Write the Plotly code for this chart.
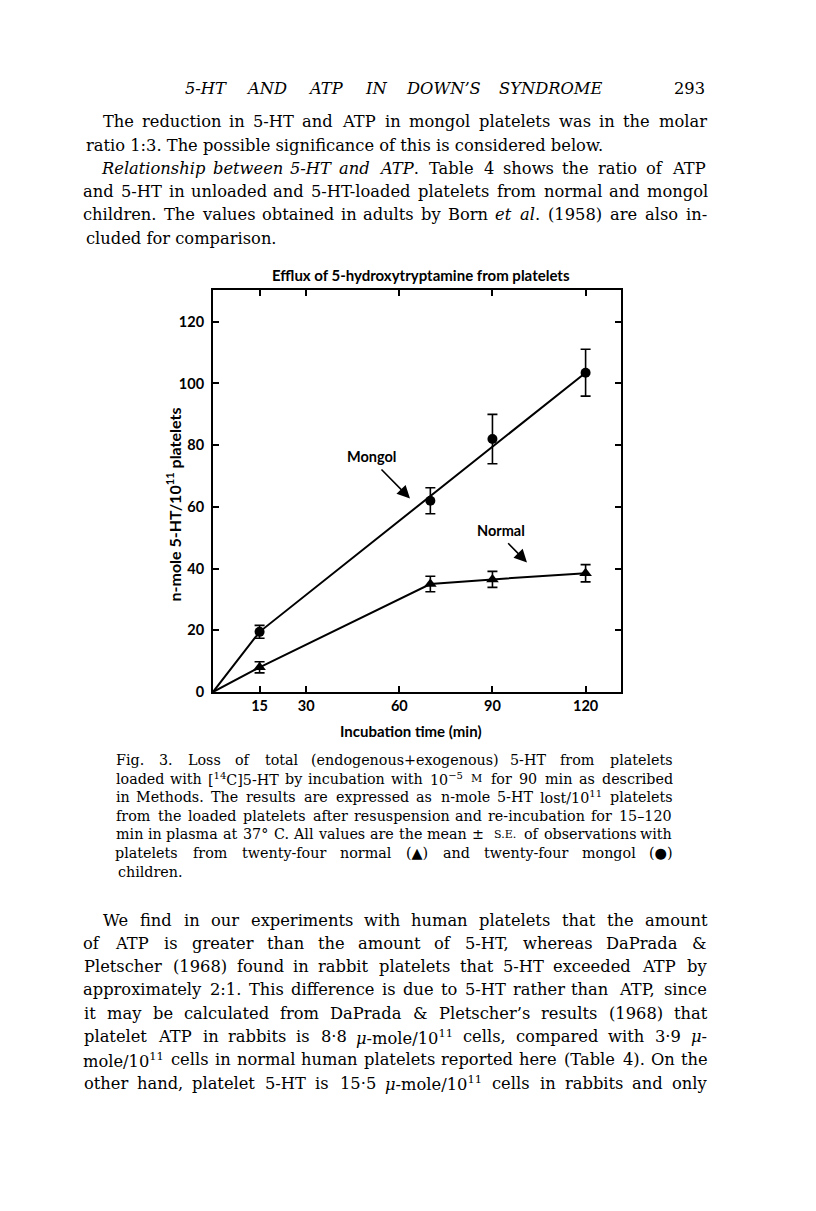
import re
import plotly.graph_objects as go

# ---------------- data ----------------
times = [15, 70, 90, 120]
mongol_mean = [19.5, 62, 82, 103.5]
mongol_se = [2.1, 4.2, 8, 7.6]
normal_mean = [8, 35, 36.5, 38.5]
normal_se = [1.8, 2.5, 2.6, 2.8]
mongol_fit_x = [0, 15, 120]
mongol_fit_y = [0, 19.5, 103.5]
normal_line_x = [0, 15, 70, 90, 120]
normal_line_y = [0, 8, 35, 36.5, 38.5]
x_ticks = [15, 30, 60, 90, 120]
y_ticks = [0, 20, 40, 60, 80, 100, 120]

chart_title = "Efflux of 5-hydroxytryptamine from platelets"
x_title = "Incubation time (min)"
y_title = "n-mole 5-HT/10<sup>11</sup> platelets"

header = "<i>5-HT</i> <i>AND</i> <i>ATP</i> <i>IN</i> <i>DOWN’S</i> <i>SYNDROME</i>"
page_no = "293"

para1 = [
    ("The reduction in 5-HT and ATP in mongol platelets was in the molar", True, True),
    ("ratio 1:3. The possible significance of this is considered below.", False, False),
    ("<i>Relationship</i> <i>between</i> <i>5-HT</i> <i>and</i> <i>ATP</i>. Table 4 shows the ratio of ATP", True, True),
    ("and 5-HT in unloaded and 5-HT-loaded platelets from normal and mongol", False, True),
    ("children. The values obtained in adults by Born <i>et</i> <i>al</i>. (1958) are also in-", False, True),
    ("cluded for comparison.", False, False),
]
SC = '<span style="font-size:11px">'
caption = [
    ("Fig. 3. Loss of total (endogenous+exogenous) 5-HT from platelets", True),
    ("loaded with [<sup>14</sup>C]5-HT by incubation with 10<sup>−5</sup> " + SC + "M</span> for 90 min as described", True),
    ("in Methods. The results are expressed as n-mole 5-HT lost/10<sup>11</sup> platelets", True),
    ("from the loaded platelets after resuspension and re-incubation for 15–120", True),
    ("min in plasma at 37° C. All values are the mean ± " + SC + "S.E.</span> of observations with", True),
    ("platelets from twenty-four normal (▲) and twenty-four mongol (●)", True),
    ("children.", False),
]
para2 = [
    ("We find in our experiments with human platelets that the amount", True, True),
    ("of ATP is greater than the amount of 5-HT, whereas DaPrada &amp;", False, True),
    ("Pletscher (1968) found in rabbit platelets that 5-HT exceeded ATP by", False, True),
    ("approximately 2:1. This difference is due to 5-HT rather than ATP, since", False, True),
    ("it may be calculated from DaPrada &amp; Pletscher’s results (1968) that", False, True),
    ("platelet ATP in rabbits is 8·8 <i>μ</i>-mole/10<sup>11</sup> cells, compared with 3·9 <i>μ</i>-", False, True),
    ("mole/10<sup>11</sup> cells in normal human platelets reported here (Table 4). On the", False, True),
    ("other hand, platelet 5-HT is 15·5 <i>μ</i>-mole/10<sup>11</sup> cells in rabbits and only", False, True),
]

# ---------------- layout geometry ----------------
# page coordinates (px) of the reference; the html body adds an 8px margin
OFF = 8
PAGE_W, PAGE_H = 816, 1211
ML, MR, MT, MB = 213, 195, 290, 519          # plot box in page coordinates
W, H = PAGE_W - 2 * OFF, PAGE_H - 2 * OFF
PW = PAGE_W - ML - MR
PH = PAGE_H - MT - MB

def px(x):
    return (x - ML) / PW

def py(y):
    return (PAGE_H - MB - y) / PH

SERIF = "DejaVu Serif"
SANS = "Lato"

CW = {' ': 0.318, 'i': 0.32, 'l': 0.32, 'j': 0.32, 'f': 0.37, 't': 0.4, 'r': 0.48,
      's': 0.51, 'm': 0.95, 'w': 0.86, 'c': 0.56, 'e': 0.59, 'a': 0.6, 'k': 0.62,
      'v': 0.57, 'y': 0.57, 'x': 0.57, 'z': 0.53, '.': 0.318, ',': 0.318, ':': 0.337,
      ';': 0.337, '(': 0.39, ')': 0.39, '-': 0.338, '&': 0.9, '’': 0.3, '+': 0.838,
      '±': 0.838, '/': 0.337, '–': 0.5, '·': 0.318, 'I': 0.39, 'M': 0.95, 'W': 1.03,
      '°': 0.5, '▲': 0.77, '●': 0.77, 'μ': 0.64, '[': 0.39, ']': 0.39, '−': 0.838, 'J': 0.4}

def cw(c):
    if c in CW:
        return CW[c]
    if c.isupper():
        return 0.73
    if c.isdigit():
        return 0.636
    if c.islower():
        return 0.6
    return 0.4

def est_width(markup, size):
    s = markup.replace("&amp;", "&")
    w = 0.0
    for m in re.finditer(r'<sup>(.*?)</sup>|<[^>]+>|([^<]+)', s):
        if m.group(1) is not None:
            w += 0.65 * sum(cw(c) for c in m.group(1))
        elif m.group(2) is not None:
            w += sum(cw(c) for c in m.group(2))
    return w * size

annotations = []

def text_ann(text, x, y, size, family=SERIF, xanchor="left", weight="normal", angle=0):
    annotations.append(dict(text=text, x=px(x), y=py(y), xref="paper", yref="paper",
                            xanchor=xanchor, yanchor="middle", showarrow=False,
                            textangle=angle,
                            font=dict(family=family, size=size, color="black", weight=weight)))

def split_words(line):
    words, cur, depth = [], "", 0
    for c in line:
        if c == "<":
            depth += 1
        elif c == ">":
            depth -= 1
        if c == " " and depth == 0:
            words.append(cur)
            cur = ""
        else:
            cur += c
    words.append(cur)
    return [w for w in words if w]

def add_line(line, x0, x1, y, size, justify):
    if not justify:
        text_ann(line, x0, y, size)
        return
    words = split_words(line)
    widths = [est_width(w, size) for w in words]
    gap = (x1 - x0 - sum(widths)) / max(len(words) - 1, 1)
    x = x0
    for w, wd in zip(words, widths):
        text_ann(w, x + wd / 2, y, size, xanchor="center")
        x += wd + gap

BODY = 16.3
CAP = 14.3
LEFT, RIGHT, INDENT = 84, 707, 103

add_line(header, 186, 600, 88.3, BODY, True)
text_ann(page_no, 707, 88.3, BODY, xanchor="right")

for i, (line, ind, just) in enumerate(para1):
    add_line(line, INDENT if ind else LEFT, RIGHT, 121.7 + 23.3 * i, BODY, just)

for i, (line, just) in enumerate(caption):
    add_line(line, 116, 672, 760 + 18.6 * i, CAP, just)

for i, (line, ind, just) in enumerate(para2):
    add_line(line, 102 if ind else LEFT, RIGHT, 920 + 23.3 * i, BODY, just)

# chart texts
text_ann(chart_title, 421, 275, 15, family=SANS, xanchor="center", weight="bold")
text_ann(x_title, 411, 731, 15, family=SANS, xanchor="center", weight="bold")
text_ann(y_title, 173.5, 505, 16, family=SANS, xanchor="center", weight="bold", angle=-90)
text_ann("Mongol", 371.7, 456.7, 14.5, family=SANS, xanchor="center", weight="bold")
text_ann("Normal", 500.7, 530, 14.5, family=SANS, xanchor="center", weight="bold")

for (tx, ty, hx, hy) in [(380, 468, 410, 498.5), (506.7, 541.7, 527, 562.5)]:
    annotations.append(dict(text="", x=px(hx), y=py(hy), xref="paper", yref="paper",
                            ax=tx - hx, ay=ty - hy, showarrow=True, arrowhead=2,
                            arrowsize=1.6, arrowwidth=1.6, arrowcolor="black"))

# ---------------- traces ----------------
fig = go.Figure()
fig.add_trace(go.Scatter(x=mongol_fit_x, y=mongol_fit_y, mode="lines",
                         line=dict(color="black", width=2), showlegend=False, hoverinfo="skip"))
fig.add_trace(go.Scatter(x=normal_line_x, y=normal_line_y, mode="lines",
                         line=dict(color="black", width=2), showlegend=False, hoverinfo="skip"))
fig.add_trace(go.Scatter(x=times, y=mongol_mean, mode="markers", name="Mongol",
                         marker=dict(symbol="circle", size=10, color="black"),
                         error_y=dict(type="data", array=mongol_se, visible=True,
                                      color="black", thickness=1.6, width=5),
                         showlegend=False))
fig.add_trace(go.Scatter(x=times, y=normal_mean, mode="markers", name="Normal",
                         marker=dict(symbol="triangle-up", size=11, color="black"),
                         error_y=dict(type="data", array=normal_se, visible=True,
                                      color="black", thickness=1.6, width=5),
                         showlegend=False))

axis_common = dict(showline=True, linewidth=2, linecolor="black", mirror="ticks",
                   ticks="inside", ticklen=6, tickwidth=1.5, tickcolor="black",
                   showgrid=False, zeroline=False,
                   tickfont=dict(family=SANS, size=14.5, color="black", weight="bold"))

fig.update_layout(
    width=W, height=H,
    margin=dict(l=ML - OFF, r=MR - OFF, t=MT - OFF, b=MB - OFF, pad=0),
    paper_bgcolor="white", plot_bgcolor="white",
    showlegend=False,
    xaxis=dict(range=[0, 131.4], tickvals=x_ticks, ticktext=[str(v) for v in x_ticks],
               ticklabelstandoff=0, **axis_common),
    yaxis=dict(range=[0, 130.3], tickvals=y_ticks, ticktext=[str(v) for v in y_ticks],
               ticklabelstandoff=4, **axis_common),
    annotations=annotations,
)

fig.write_html("out.html")
